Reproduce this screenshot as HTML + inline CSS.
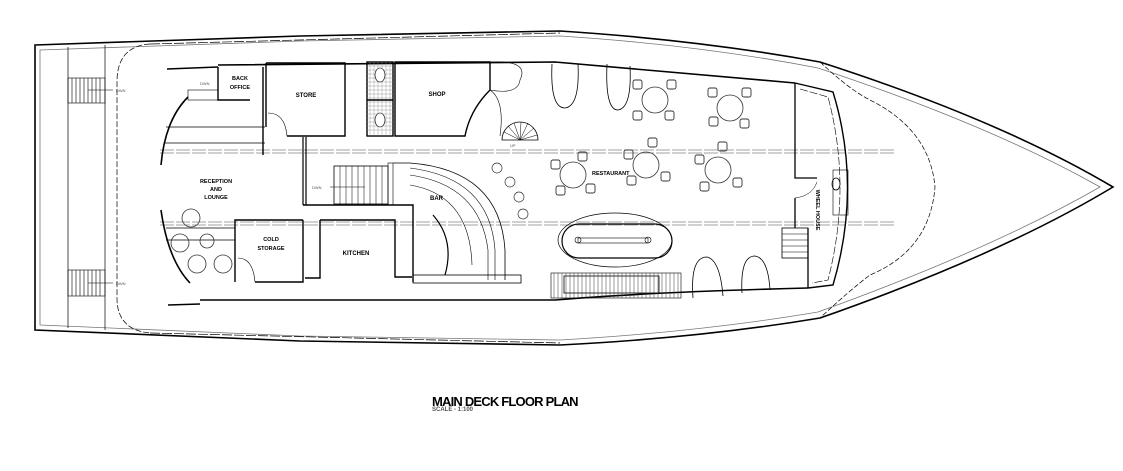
<!DOCTYPE html>
<html><head><meta charset="utf-8"><style>
html,body{margin:0;padding:0;background:#fff;}
body{width:1123px;height:471px;overflow:hidden;position:relative;font-family:"Liberation Sans",sans-serif;}
svg{position:absolute;left:0;top:0;}
.t{position:absolute;left:432px;top:394px;font-weight:bold;font-size:13px;letter-spacing:-0.8px;color:#000;}
.s{position:absolute;left:432px;top:407px;font-weight:bold;font-size:6px;color:#555;}
</style></head><body>
<svg width="1123" height="471" viewBox="0 0 1123 471" fill="none" stroke="#000" stroke-width="1">
<path d="M35,45 L300,36 L560,31 Q700,40 820,62 Q1000,120 1113,187 Q1000,255 820,318 Q700,338 560,345 L300,341 L35,330 Z" stroke-width="1.6"/>
<path d="M40,50 L300,41 L560,36 Q700,45 818,68 Q990,125 1100,187 Q990,250 818,312 Q700,332 560,340 L300,336 L40,325 Z" stroke="#777" stroke-width="0.8"/>
<line x1="68" y1="47" x2="68" y2="328" stroke-width="0.7"/>
<line x1="105" y1="45" x2="105" y2="330" stroke-width="0.7"/>
<g stroke-width="0.6">
<rect x="68" y="78" width="37" height="25"/><rect x="68" y="270" width="37" height="26"/>
<path d="M72,78v25M76,78v25M80,78v25M84,78v25M88,78v25M92,78v25M96,78v25M100,78v25"/>
<path d="M72,270v26M76,270v26M80,270v26M84,270v26M88,270v26M92,270v26M96,270v26M100,270v26"/>
<path d="M88,90h25M88,283h25"/>
</g>
<text x="116" y="92" font-size="4" fill="#555" stroke="none">DWN</text>
<text x="116" y="285" font-size="4" fill="#555" stroke="none">DWN</text>
<path d="M150,44 Q118,46 117,80 L117,300 Q118,330 150,333" stroke-dasharray="6,2" stroke-width="0.7"/>
<path d="M150,44 L560,33 M150,333 L560,343" stroke-dasharray="10,2" stroke-width="0.7"/>
<path d="M820,62 Q850,90 870,100 Q930,130 935,187 Q930,250 870,275 Q850,290 820,318" stroke-dasharray="5,2" stroke-width="0.7"/>
<g stroke-dasharray="14,2" stroke-width="0.5" stroke="#444">
<line x1="160" y1="150" x2="895" y2="150"/><line x1="160" y1="153" x2="895" y2="153"/>
<line x1="160" y1="222" x2="895" y2="222"/><line x1="160" y1="225" x2="895" y2="225"/>
</g>
<path d="M167,69 L218,67 M218,65 L555,62 L795,83" stroke-width="1.6"/>
<path d="M168,305 L200,304 M200,300 L555,300 Q650,292 808,288" stroke-width="1.6"/>
<path d="M188,97 Q165,120 161,165" stroke-width="1.6"/>
<path d="M161,210 Q168,260 190,283" stroke-width="1.6"/>
<path d="M166,127 H265 M164,143 H265" stroke-width="0.7"/>
<path d="M166,228 H235 M166,240 H235" stroke-width="0.7"/>
<path d="M218,67 V100 H250 M263,67 V155" stroke-width="1.4"/>
<rect x="188" y="90" width="30" height="10" stroke-width="0.6"/>
<text x="200" y="85" font-size="4" fill="#555" stroke="none">DWN</text>
<text x="240" y="80" font-size="5.5" font-weight="bold" text-anchor="middle" fill="#000" stroke="none">BACK</text>
<text x="240" y="89" font-size="5.5" font-weight="bold" text-anchor="middle" fill="#000" stroke="none">OFFICE</text>
<path d="M266,63 V127 M266,63 H345 V136 H287" stroke-width="1.4"/>
<path d="M268,113 Q285,113 287,136" stroke-width="0.6"/>
<text x="306" y="97" font-size="6" font-weight="bold" text-anchor="middle" fill="#000" stroke="none">STORE</text>
<rect x="367" y="62" width="26" height="74" stroke-width="1.4"/>
<g stroke="#888" stroke-width="0.4">
<path d="M370,62v74M374,62v74M378,62v74M382,62v74M386,62v74M390,62v74"/>
<path d="M367,66h26M367,70h26M367,74h26M367,78h26M367,82h26M367,86h26M367,90h26M367,94h26M367,98h26M367,102h26M367,106h26M367,110h26M367,114h26M367,118h26M367,122h26M367,126h26M367,130h26"/>
</g>
<line x1="367" y1="100" x2="393" y2="100" stroke-width="1.4"/>
<ellipse cx="380" cy="75" rx="5" ry="7" fill="#fff" stroke-width="0.6"/>
<ellipse cx="380" cy="120" rx="5" ry="7" fill="#fff" stroke-width="0.6"/>
<path d="M395,62 H490 V90 Q470,110 465,136 H395 Z" stroke-width="1.4"/>
<path d="M490,90 Q505,100 500,136" stroke-width="0.6"/>
<path d="M490,62 Q530,60 520,80 Q518,95 490,90" stroke-width="0.6"/>
<text x="437" y="96" font-size="6" font-weight="bold" text-anchor="middle" fill="#000" stroke="none">SHOP</text>
<path d="M502,140 A18,18 0 0 1 538,140 Z" stroke-width="0.8"/>
<path d="M520,140 L504,132 M520,140 L508,126 M520,140 L514,123 M520,140 L521,122 M520,140 L528,123 M520,140 L534,128 M520,140 L537,135" stroke-width="0.5"/>
<text x="510" y="147" font-size="4" fill="#555" stroke="none">UP</text>
<path d="M303,137 V205 M306,137 V205" stroke-width="1.2"/>
<rect x="334" y="166" width="54" height="38" stroke-width="0.8"/>
<path d="M340,166v38M346,166v38M352,166v38M358,166v38M364,166v38M370,166v38M376,166v38M382,166v38" stroke-width="0.5"/>
<path d="M330,187 H365" stroke-width="0.5"/>
<text x="312" y="189" font-size="4" fill="#555" stroke="none">DWN</text>
<rect x="388" y="163" width="5" height="42" stroke-width="0.6"/>
<path d="M303,205 H413 V282 M320,220 V278 H305 M320,220 H395 V277 H412" stroke-width="1.4"/>
<text x="356" y="255" font-size="6" font-weight="bold" text-anchor="middle" fill="#000" stroke="none">KITCHEN</text>
<path d="M303,220 H235 V282 M303,220 V282 H255" stroke-width="1.4"/>
<path d="M238,258 Q253,258 255,282" stroke-width="0.6"/>
<text x="271" y="241" font-size="5.5" font-weight="bold" text-anchor="middle" fill="#000" stroke="none">COLD</text>
<text x="271" y="250" font-size="5.5" font-weight="bold" text-anchor="middle" fill="#000" stroke="none">STORAGE</text>
<text x="216" y="183" font-size="5.5" font-weight="bold" text-anchor="middle" fill="#000" stroke="none">RECEPTION</text>
<text x="216" y="191" font-size="5.5" font-weight="bold" text-anchor="middle" fill="#000" stroke="none">AND</text>
<text x="216" y="199" font-size="5.5" font-weight="bold" text-anchor="middle" fill="#000" stroke="none">LOUNGE</text>
<g stroke-width="0.8" stroke="#333">
<circle cx="191" cy="218" r="9"/><circle cx="180" cy="243" r="9"/><circle cx="207" cy="241" r="7"/>
<circle cx="197" cy="264" r="9"/><circle cx="223" cy="264" r="9"/>
</g>
<path d="M393,163 H410 Q500,170 505,250 L505,280" stroke-width="0.8"/>
<path d="M410,168 Q490,178 495,250 L495,280" stroke-width="0.6"/>
<path d="M410,175 Q480,185 488,250 L488,280" stroke-width="0.6"/>
<path d="M410,185 Q470,195 472,265" stroke-width="0.6"/>
<path d="M433,215 Q455,240 445,275" stroke-width="1.2"/>
<rect x="413" y="275" width="108" height="8" stroke-width="0.8"/>
<text x="430" y="200" font-size="6" font-weight="bold" fill="#000" stroke="none">BAR</text>
<g stroke-width="0.7" stroke="#333">
<circle cx="497" cy="168" r="5"/><circle cx="510" cy="182" r="5"/><circle cx="519" cy="197" r="5"/><circle cx="523" cy="214" r="5"/>
</g>
<g stroke-width="0.8" stroke="#333">
<circle cx="655" cy="100" r="13"/><circle cx="730" cy="108" r="13"/>
<circle cx="573" cy="175" r="13"/><circle cx="646" cy="165" r="13"/><circle cx="718" cy="170" r="13"/>
<g stroke-width="0.9">
<rect x="633" y="80" width="9" height="9" rx="2"/><rect x="667" y="80" width="9" height="9" rx="2"/><rect x="633" y="111" width="9" height="9" rx="2"/><rect x="665" y="111" width="9" height="9" rx="2"/>
<rect x="708" y="88" width="9" height="9" rx="2"/><rect x="742" y="88" width="9" height="9" rx="2"/><rect x="709" y="117" width="9" height="9" rx="2"/><rect x="740" y="119" width="9" height="9" rx="2"/>
<rect x="551" y="160" width="9" height="9" rx="2"/><rect x="578" y="152" width="9" height="9" rx="2"/><rect x="556" y="186" width="9" height="9" rx="2"/><rect x="586" y="184" width="9" height="9" rx="2"/>
<rect x="624" y="150" width="9" height="9" rx="2"/><rect x="648" y="138" width="9" height="9" rx="2"/><rect x="627" y="176" width="9" height="9" rx="2"/><rect x="661" y="172" width="9" height="9" rx="2"/>
<rect x="695" y="155" width="9" height="9" rx="2"/><rect x="718" y="142" width="9" height="9" rx="2"/><rect x="700" y="182" width="9" height="9" rx="2"/><rect x="733" y="178" width="9" height="9" rx="2"/>
</g>
</g>
<text x="592" y="175" font-size="5.5" font-weight="bold" fill="#000" stroke="none">RESTAURANT</text>
<g stroke-width="0.8">
<path d="M552,64 Q550,108 565,108 Q580,106 578,64"/>
<path d="M607,64 Q605,110 618,110 Q632,108 630,66"/>
<path d="M693,298 Q690,257 707,257 Q720,260 723,296"/>
<path d="M742,293 Q740,256 755,256 Q768,258 770,290"/>
</g>
<ellipse cx="615" cy="240" rx="57" ry="27" stroke-width="0.7"/>
<rect x="562" y="224" width="110" height="34" rx="17" stroke-width="1.2"/>
<rect x="578" y="238" width="70" height="5" stroke-width="0.6"/>
<circle cx="578" cy="240" r="3" stroke-width="0.6"/><circle cx="648" cy="240" r="3" stroke-width="0.6"/>
<rect x="551" y="273" width="130" height="25" stroke-width="0.6"/>
<rect x="564" y="276" width="95" height="17" stroke-width="0.8"/>
<g stroke-width="0.5" stroke="#333">
<path d="M554,273v25M558,273v25M562,273v25M566,273v25M570,273v25M574,273v25M578,273v25M582,273v25M586,273v25M590,273v25M594,273v25M598,273v25M602,273v25M606,273v25M610,273v25M614,273v25M618,273v25M622,273v25M626,273v25M630,273v25M634,273v25M638,273v25M642,273v25M646,273v25M650,273v25M654,273v25M658,273v25M662,273v25M666,273v25M670,273v25M674,273v25M678,273v25"/>
</g>
<path d="M795,83 V178 H817 M795,198 V228 M808,228 V288" stroke-width="1.3"/>
<path d="M795,83 L833,92 Q862,187 833,285 L808,288" stroke-width="1.4"/>
<path d="M800,89 L828,97 Q852,187 828,280 L812,283" stroke-width="0.6" stroke-dasharray="8,2"/>
<path d="M795,198 Q812,196 817,182" stroke-width="0.5"/>
<rect x="782" y="228" width="26" height="30" stroke-width="0.8"/>
<path d="M782,234h26M782,240h26M782,246h26M782,252h26" stroke-width="0.5"/>
<rect x="833" y="170" width="15" height="45" stroke-width="0.6"/>
<ellipse cx="836" cy="184" rx="4" ry="6" stroke-width="0.8"/>
<text x="816" y="210" font-size="5.5" font-weight="bold" fill="#000" stroke="none" transform="rotate(90 816 210)" text-anchor="middle">WHEEL HOUSE</text>
</svg>
<div class="t">MAIN DECK FLOOR PLAN</div>
<div class="s">SCALE - 1:100</div>
</body></html>
